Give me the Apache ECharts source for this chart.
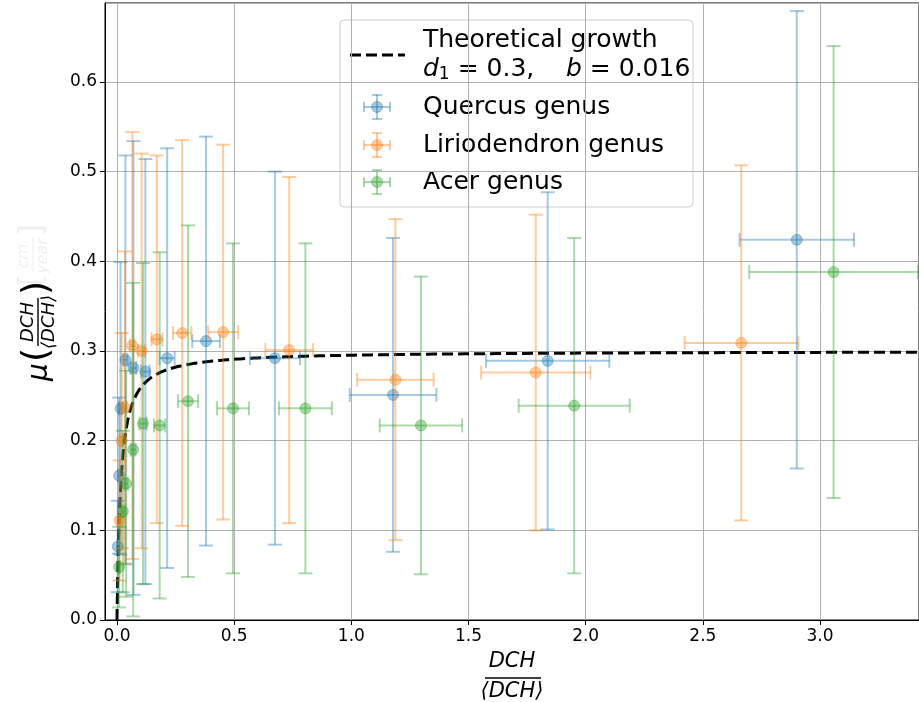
<!DOCTYPE html>
<html>
<head>
<meta charset="utf-8">
<script src="https://cdn.jsdelivr.net/npm/echarts@6/dist/echarts.min.js"></script>
<style>
  html, body { margin: 0; padding: 0; background: #fff; }
  #chart { width: 919px; height: 702px; }
</style>
</head>
<body>
<div id="chart"></div>
<script>
// model parameters from the legend
const d1 = 0.3;
const b = 0.016;

// Quercus genus
const quercusX    = [0.003, 0.009, 0.015, 0.036, 0.070, 0.121, 0.214, 0.380, 0.674, 1.178, 1.838, 2.901];
const quercusY    = [0.082, 0.161, 0.236, 0.290, 0.281, 0.277, 0.292, 0.311, 0.292, 0.251, 0.289, 0.424];
const quercusXErr = [0.002, 0.004, 0.006, 0.009, 0.012, 0.018, 0.032, 0.059, 0.107, 0.185, 0.263, 0.244];
const quercusYErr = [0.051, 0.087, 0.163, 0.228, 0.253, 0.237, 0.234, 0.228, 0.208, 0.175, 0.188, 0.255];

// Liriodendron genus
const lirioX    = [0.011, 0.020, 0.034, 0.065, 0.105, 0.170, 0.278, 0.453, 0.735, 1.188, 1.787, 2.664];
const lirioY    = [0.111, 0.200, 0.237, 0.306, 0.300, 0.313, 0.320, 0.321, 0.301, 0.268, 0.276, 0.309];
const lirioXErr = [0.003, 0.005, 0.007, 0.010, 0.015, 0.023, 0.039, 0.064, 0.102, 0.163, 0.233, 0.242];
const lirioYErr = [0.067, 0.120, 0.174, 0.238, 0.220, 0.205, 0.215, 0.209, 0.193, 0.179, 0.176, 0.198];

// Acer genus
const acerX    = [0.009, 0.025, 0.039, 0.069, 0.111, 0.182, 0.303, 0.495, 0.804, 1.297, 1.951, 3.058];
const acerY    = [0.059, 0.121, 0.152, 0.190, 0.219, 0.217, 0.244, 0.236, 0.236, 0.217, 0.239, 0.388];
const acerXErr = [0.003, 0.005, 0.007, 0.010, 0.015, 0.024, 0.043, 0.068, 0.113, 0.176, 0.237, 0.360];
const acerYErr = [0.045, 0.090, 0.126, 0.186, 0.179, 0.193, 0.196, 0.184, 0.184, 0.166, 0.187, 0.252];

const FONT = 'DejaVu Sans';
const BLUE = 'rgba(31,119,180,0.4)';
const ORANGE = 'rgba(255,127,14,0.4)';
const GREEN = 'rgba(44,160,44,0.4)';

function rows(xs, ys, exs, eys) {
    return xs.map((x, i) => [x, ys[i], exs[i], eys[i]]);
}

// theoretical curve mu = d1 * x / (x + b)
const theory = [];
for (let i = 0; i <= 400; i++) {
    const x = i === 0 ? 0 : 0.0004 * Math.pow(3.43 / 0.0004, i / 400);
    theory.push([x, d1 * x / (x + b)]);
}

function errorBars(color) {
    return function (params, api) {
        const x = api.value(0), y = api.value(1), ex = api.value(2), ey = api.value(3);
        const c = api.coord([x, y]);
        const l = api.coord([x - ex, y]);
        const r = api.coord([x + ex, y]);
        const t = api.coord([x, y + ey]);
        const bt = api.coord([x, y - ey]);
        const cap = 7;
        const st = { stroke: color, lineWidth: 2, fill: null };
        return {
            type: 'group',
            children: [
                { type: 'line', shape: { x1: c[0], y1: t[1], x2: c[0], y2: bt[1] }, style: st },
                { type: 'line', shape: { x1: l[0], y1: c[1], x2: r[0], y2: c[1] }, style: st },
                { type: 'line', shape: { x1: c[0] - cap, y1: t[1], x2: c[0] + cap, y2: t[1] }, style: st },
                { type: 'line', shape: { x1: c[0] - cap, y1: bt[1], x2: c[0] + cap, y2: bt[1] }, style: st },
                { type: 'line', shape: { x1: l[0], y1: c[1] - cap, x2: l[0], y2: c[1] + cap }, style: st },
                { type: 'line', shape: { x1: r[0], y1: c[1] - cap, x2: r[0], y2: c[1] + cap }, style: st },
                { type: 'circle', shape: { cx: c[0], cy: c[1], r: 5.5 }, style: { fill: color, stroke: color, lineWidth: 1 } }
            ]
        };
    };
}

function legendIcon(cx, cy, color) {
    const st = { stroke: color, lineWidth: 2 };
    return [
        { type: 'line', shape: { x1: cx, y1: cy - 12, x2: cx, y2: cy + 12 }, style: st },
        { type: 'line', shape: { x1: cx - 13, y1: cy, x2: cx + 13, y2: cy }, style: st },
        { type: 'line', shape: { x1: cx - 5, y1: cy - 12, x2: cx + 5, y2: cy - 12 }, style: st },
        { type: 'line', shape: { x1: cx - 5, y1: cy + 12, x2: cx + 5, y2: cy + 12 }, style: st },
        { type: 'line', shape: { x1: cx - 13, y1: cy - 5, x2: cx - 13, y2: cy + 5 }, style: st },
        { type: 'line', shape: { x1: cx + 13, y1: cy - 5, x2: cx + 13, y2: cy + 5 }, style: st },
        { type: 'circle', shape: { cx: cx, cy: cy, r: 5.5 }, style: { fill: color, stroke: color, lineWidth: 1 } }
    ];
}

const chart = echarts.init(document.getElementById('chart'), null, { renderer: 'canvas' });

const LEG_FONT = '25px "DejaVu Sans"';
const legendChildren = [
    { type: 'rect', shape: { x: 340, y: 20, width: 353, height: 187, r: 4 },
      style: { fill: 'rgba(255,255,255,0.8)', stroke: '#cccccc', lineWidth: 1 } },
    { type: 'line', shape: { x1: 350, y1: 55, x2: 405, y2: 55 },
      style: { stroke: '#000', lineWidth: 3, lineDash: [11, 5] } },
    { type: 'text', x: 423, y: 40, style: { text: 'Theoretical growth', font: LEG_FONT, fill: '#000', verticalAlign: 'middle' } },
    { type: 'text', x: 423, y: 69, style: {
        text: '{i|d}{s|1}{n| = 0.3,    }{i|b}{n| = 0.016}',
        verticalAlign: 'middle',
        rich: {
            i: { fontFamily: FONT, fontStyle: 'italic', fontSize: 25, fill: '#000' },
            n: { fontFamily: FONT, fontSize: 25, fill: '#000' },
            s: { fontFamily: FONT, fontSize: 17, fill: '#000', padding: [11, 0, 0, 0] }
        }
    } },
    { type: 'text', x: 423, y: 107, style: { text: 'Quercus genus', font: LEG_FONT, fill: '#000', verticalAlign: 'middle' } },
    { type: 'text', x: 423, y: 145, style: { text: 'Liriodendron genus', font: LEG_FONT, fill: '#000', verticalAlign: 'middle' } },
    { type: 'text', x: 423, y: 182, style: { text: 'Acer genus', font: LEG_FONT, fill: '#000', verticalAlign: 'middle' } }
].concat(legendIcon(377, 107, BLUE), legendIcon(377, 145, ORANGE), legendIcon(377, 182, GREEN));

const option = {
    animation: false,
    backgroundColor: '#fff',
    grid: { left: 105, right: 0, top: 3, bottom: 82, show: true, borderColor: '#000', borderWidth: 1 },
    xAxis: {
        type: 'value',
        min: -0.0512,
        max: 3.4225,
        splitNumber: 7,
        axisLine: { show: true, onZero: false, lineStyle: { color: '#000', width: 1 } },
        axisTick: { show: true, length: 5, lineStyle: { color: '#000' } },
        axisLabel: { color: '#000', fontSize: 17, fontFamily: FONT, margin: 8,
                     showMinLabel: false, showMaxLabel: false, formatter: v => v.toFixed(1) },
        splitLine: { show: true, lineStyle: { color: '#b0b0b0', width: 1 } }
    },
    yAxis: {
        type: 'value',
        min: 0,
        max: 0.688,
        interval: 0.1,
        axisLine: { show: true, onZero: false, lineStyle: { color: '#000', width: 1 } },
        axisTick: { show: true, length: 5, lineStyle: { color: '#000' } },
        axisLabel: { color: '#000', fontSize: 17, fontFamily: FONT, margin: 8,
                     showMaxLabel: false, formatter: v => v.toFixed(1) },
        splitLine: { show: true, lineStyle: { color: '#b0b0b0', width: 1 } }
    },
    series: [
        {
            name: 'Theoretical growth',
            type: 'line',
            data: theory,
            showSymbol: false,
            smooth: false,
            clip: true,
            lineStyle: { color: '#000', width: 3, type: [11, 5] },
            z: 2
        },
        { name: 'Quercus genus', type: 'custom', renderItem: errorBars(BLUE), data: rows(quercusX, quercusY, quercusXErr, quercusYErr), clip: true, z: 3 },
        { name: 'Liriodendron genus', type: 'custom', renderItem: errorBars(ORANGE), data: rows(lirioX, lirioY, lirioXErr, lirioYErr), clip: true, z: 3 },
        { name: 'Acer genus', type: 'custom', renderItem: errorBars(GREEN), data: rows(acerX, acerY, acerXErr, acerYErr), clip: true, z: 3 }
    ],
    graphic: [
        // legend
        { type: 'group', z: 100, children: legendChildren },
        // x-axis title: DCH / <DCH>
        { type: 'text', x: 512, y: 662, style: { text: 'DCH', font: 'italic 21px "DejaVu Sans"', fill: '#000', align: 'center', verticalAlign: 'middle' } },
        { type: 'line', shape: { x1: 485, y1: 678, x2: 541, y2: 678 }, style: { stroke: '#000', lineWidth: 1.4 } },
        { type: 'text', x: 512, y: 692, style: { text: '⟨DCH⟩', font: 'italic 21px "DejaVu Sans"', fill: '#000', align: 'center', verticalAlign: 'middle' } },
        // y-axis title: mu(DCH / <DCH>) with faint units
        {
            type: 'group', x: 38, y: 372, rotation: Math.PI / 2,
            children: [
                { type: 'text', x: 0, y: 2, style: { text: 'μ', font: 'italic 28px "DejaVu Sans"', fill: '#000', align: 'center', verticalAlign: 'middle' } },
                { type: 'text', x: 17, y: 0, style: { text: '(', font: '36px "DejaVu Sans"', fill: '#000', align: 'center', verticalAlign: 'middle' } },
                { type: 'text', x: 50, y: -10, style: { text: 'DCH', font: 'italic 18px "DejaVu Sans"', fill: '#000', align: 'center', verticalAlign: 'middle' } },
                { type: 'line', shape: { x1: 26, y1: 0, x2: 74, y2: 0 }, style: { stroke: '#000', lineWidth: 1.4 } },
                { type: 'text', x: 50, y: 11, style: { text: '⟨DCH⟩', font: 'italic 18px "DejaVu Sans"', fill: '#000', align: 'center', verticalAlign: 'middle' } },
                { type: 'text', x: 84, y: 0, style: { text: ')', font: '36px "DejaVu Sans"', fill: '#000', align: 'center', verticalAlign: 'middle' } },
                { type: 'text', x: 92, y: -5, style: { text: '[', font: '32px "DejaVu Sans"', fill: '#f0f0f0', align: 'center', verticalAlign: 'middle' } },
                { type: 'text', x: 116, y: -14, style: { text: 'cm', font: 'italic 16px "DejaVu Sans"', fill: '#f0f0f0', align: 'center', verticalAlign: 'middle' } },
                { type: 'line', shape: { x1: 100, y1: -5, x2: 134, y2: -5 }, style: { stroke: '#f0f0f0', lineWidth: 1.2 } },
                { type: 'text', x: 116, y: 5, style: { text: 'year', font: 'italic 16px "DejaVu Sans"', fill: '#f0f0f0', align: 'center', verticalAlign: 'middle' } },
                { type: 'text', x: 142, y: -5, style: { text: ']', font: '32px "DejaVu Sans"', fill: '#f0f0f0', align: 'center', verticalAlign: 'middle' } }
            ]
        }
    ]
};

chart.setOption(option);
</script>
</body>
</html>
